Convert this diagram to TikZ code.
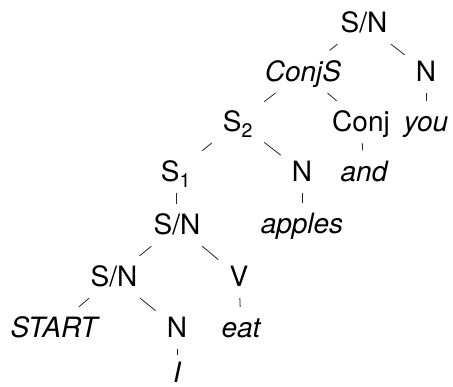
\documentclass[tikz,border=0pt]{standalone}
\usepackage{fontspec}
\setmainfont{TeX Gyre Heros}
\tikzset{
  lbl/.style={anchor=base, inner xsep=11pt, inner ysep=11pt, text height=20pt, text depth=0pt,
    font=\fontsize{28}{34}\selectfont},
  lbli/.style={lbl, font=\fontsize{28}{34}\selectfont\itshape},
  edge/.style={draw=black!85, line width=0.8pt}
}
\begin{document}
\begin{tikzpicture}[x=1pt,y=1pt]
\useasboundingbox (0,0) rectangle (453,-387);
\node[lbl]  (sn0)   at (364,-33)    {S/N};
\node[lbli] (conjs) at (303,-81.7)  {ConjS};
\node[lbl]  (n1)    at (426,-81.7)  {N};
\node[lbl]  (s2)    at (238,-132)   {S\textsubscript{2}};
\node[lbl]  (conj)  at (361,-132)   {Conj};
\node[lbli] (you)   at (426,-132)   {you};
\node[lbl]  (s1)    at (176,-181.7) {S\textsubscript{1}};
\node[lbl]  (n2)    at (302,-181.7) {N};
\node[lbli] (and)   at (364,-181.7) {and};
\node[lbl]  (sn2)   at (177,-235)   {S/N};
\node[lbli] (apples) at (302,-234)  {apples};
\node[lbl]  (sn3)   at (114,-287)   {S/N};
\node[lbl]  (v)     at (239,-287)   {V};
\node[lbli] (start) at (54,-338)    {START};
\node[lbl]  (n3)    at (177,-338)   {N};
\node[lbli] (eat)   at (241,-338)   {eat};
\node[lbli, inner ysep=8pt] (i) at (177,-383) {I};
\draw[edge] (sn0) -- (conjs);
\draw[edge] (sn0) -- (n1);
\draw[edge] (conjs) -- (s2);
\draw[edge] (conjs) -- (conj);
\draw[edge] (n1) -- (you);
\draw[edge] (s2) -- (s1);
\draw[edge] (s2) -- (n2);
\draw[edge] (conj) -- (and);
\draw[edge] (s1) -- (sn2);
\draw[edge] (n2) -- (apples);
\draw[edge] (sn2) -- (sn3);
\draw[edge] (sn2) -- (v);
\draw[edge] (sn3) -- (start);
\draw[edge] (sn3) -- (n3);
\draw[edge] (v) -- (eat);
\draw[edge] (n3) -- (i);
\end{tikzpicture}
\end{document}
